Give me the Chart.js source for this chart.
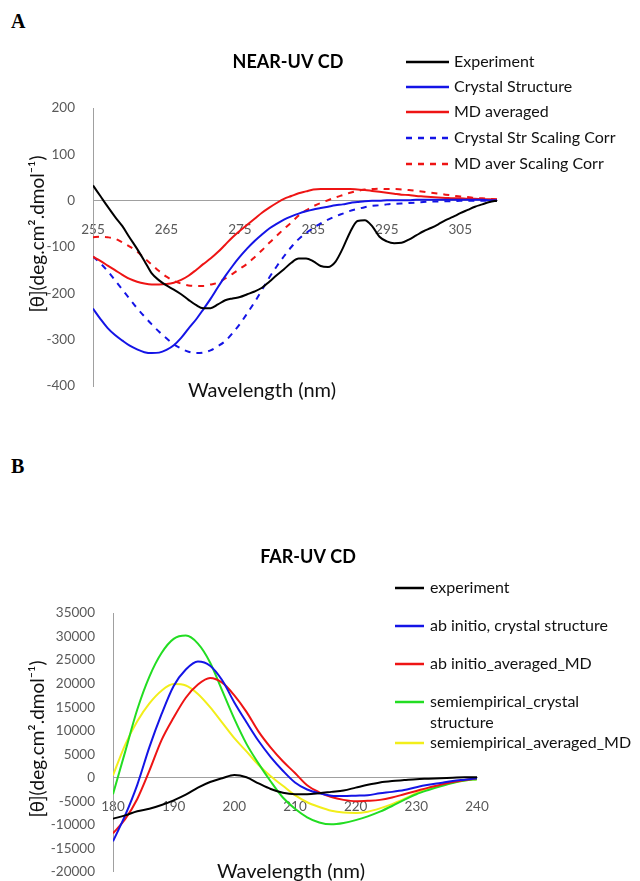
<!DOCTYPE html>
<html>
<head>
<meta charset="utf-8">
<script src="https://cdn.jsdelivr.net/npm/chart.js@4.4.0/dist/chart.umd.min.js"></script>
<style>
  html, body { margin: 0; padding: 0; background: #fff; overflow: hidden; }
  body { width: 640px; height: 881px; position: relative; }
  .panel-letter { position: absolute; left: 11px; font: bold 20px "Liberation Serif", "DejaVu Serif", serif; color: #000; }
  #chartA { position: absolute; left: 0; top: 0; }
  #chartB { position: absolute; left: 0; top: 430px; }
</style>
</head>
<body>
<div class="panel-letter" style="top: 10px;">A</div>
<div class="panel-letter" style="top: 455px;">B</div>
<canvas id="chartA" width="640" height="430"></canvas>
<canvas id="chartB" width="640" height="460"></canvas>
<script>
// ---- Panel A: near-UV CD ----
const wavelengthsA = [255, 256, 257, 258, 259, 260, 261, 262, 263, 264, 265, 266, 267, 268, 269, 270, 271, 272, 273, 274,
    275, 276, 277, 278, 279, 280, 281, 282, 283, 284, 285, 286, 287, 288, 289, 290, 291, 292, 293, 294,
    295, 296, 297, 298, 299, 300, 301, 302, 303, 304, 305, 306, 307, 308, 309, 310];
const experimentA = [33, 10, -13, -35, -55, -80, -104, -130, -157, -172, -183, -192, -202, -214, -225, -232, -232, -224, -215, -211,
    -208, -202, -196, -188, -175, -161, -148, -134, -125, -125, -131, -141, -143, -132, -103, -68, -44, -42, -55, -78,
    -88, -92, -91, -84, -75, -66, -59, -51, -42, -35, -27, -20, -13, -8, -3, 0];
const crystalA = [-233, -255, -275, -290, -302, -313, -321, -327, -329, -328, -322, -312, -296, -276, -257, -235, -212, -187, -163, -141,
    -121, -103, -87, -73, -60, -50, -41, -34, -28, -23, -19, -16, -13, -10, -8, -5, -3, -1, 0, 0,
    1, 1, 1, 1, 2, 2, 2, 2, 2, 2, 2, 2, 2, 2, 1, 1];
const mdAveragedA = [-121, -130, -140, -150, -160, -169, -175, -179, -181, -181, -180, -177, -171, -162, -150, -137, -125, -111, -95, -79,
    -65, -52, -39, -26, -15, -5, 4, 10, 16, 20, 24, 25, 25, 25, 25, 25, 24, 23, 21, 19,
    17, 15, 13, 12, 10, 9, 8, 7, 6, 5, 5, 4, 4, 3, 3, 2];
const crystalScaledA = [-121, -135, -152, -172, -192, -212, -232, -250, -267, -283, -297, -310, -319, -326, -329, -328, -323, -314, -303, -286,
    -266, -243, -219, -193, -166, -142, -120, -100, -83, -70, -59, -49, -41, -34, -28, -22, -18, -14, -11, -10,
    -8, -7, -6, -5, -4, -3, -2, -2, -1, -1, 0, 0, 0, 0, 0, 0];
const mdScaledA = [-79, -78, -79, -82, -90, -99, -110, -124, -138, -152, -164, -173, -179, -183, -184, -184, -181, -177, -168, -158,
    -147, -136, -122, -107, -91, -76, -61, -47, -32, -21, -12, -5, 1, 7, 12, 17, 21, 24, 25, 26,
    25, 25, 24, 23, 21, 19, 17, 15, 13, 11, 9, 8, 6, 5, 4, 3];
const xTicksA = [255, 265, 275, 285, 295, 305];

// ---- Panel B: far-UV CD ----
const wavelengthsB = [180, 182, 184, 186, 188, 190, 192, 194, 196, 198, 200, 202, 204, 206, 208, 210,
    212, 214, 216, 218, 220, 222, 224, 226, 228, 230, 232, 234, 236, 238, 240];
const experimentB = [-8700, -8000, -7100, -6600, -5800, -4800, -3600, -2100, -900, -100, 600, 100, -1200, -2400, -3200, -3500,
    -3500, -3300, -3000, -2700, -2100, -1500, -1000, -700, -500, -300, -200, -100, 0, 100, 100];
const abInitioCrystalB = [-13500, -8000, -1500, 6500, 13500, 19500, 23000, 24700, 23800, 20700, 16000, 11800, 7800, 4400, 1500, -1000,
    -2500, -3300, -3800, -3900, -3800, -3700, -3300, -3000, -2600, -2000, -1500, -1100, -700, -400, -100];
const abInitioMdB = [-11800, -8800, -4500, 1500, 8000, 12800, 17000, 19800, 21200, 20200, 17500, 14000, 9800, 6400, 3500, 1000,
    -1600, -3100, -4100, -4700, -5000, -4900, -4700, -4200, -3500, -2800, -2100, -1500, -900, -500, -100];
const semiCrystalB = [-3500, 5500, 14500, 21500, 26500, 29500, 30200, 28500, 24500, 18500, 12500, 7200, 3000, -800, -4200, -6600,
    -8400, -9500, -9900, -9600, -9000, -8200, -7200, -6000, -4700, -3500, -2600, -1800, -1100, -600, -300];
const semiMdB = [500, 7000, 12000, 15800, 18500, 19900, 19600, 17800, 15000, 11700, 8400, 5600, 2700, 300, -1700, -3700,
    -5200, -6200, -7000, -7400, -7500, -7200, -6500, -5600, -4500, -3300, -2300, -1600, -1000, -600, -300];
const xTicksB = [180, 190, 200, 210, 220, 230, 240];

const FONT = 'Lato, "Open Sans", sans-serif';
const yTitleText = '[θ](deg.cm².dmol⁻¹)';

const toPoints = (xs, ys) => xs.map((x, i) => ({ x: x, y: ys[i] }));

const lineSet = (label, xs, ys, color, dash) => ({
    label: label,
    data: toPoints(xs, ys),
    borderColor: color,
    backgroundColor: color,
    borderWidth: 2,
    borderDash: dash || [],
    pointRadius: 0,
    cubicInterpolationMode: 'monotone',
    fill: false
});

// draws chart title, axis titles and the legend at their places in the figure
const panelText = {
    id: 'panelText',
    afterDraw(chart, args, opts) {
        const ctx = chart.ctx;
        ctx.save();
        ctx.fillStyle = '#000';
        ctx.textAlign = 'center';
        ctx.textBaseline = 'middle';

        ctx.font = 'bold 18px ' + FONT;
        ctx.fillText(opts.title.text, opts.title.x, opts.title.y);

        ctx.font = '20px ' + FONT;
        ctx.fillStyle = '#111';
        ctx.fillText('Wavelength (nm)', opts.xTitle.x, opts.xTitle.y);

        ctx.save();
        ctx.font = '19px ' + FONT;
        ctx.translate(opts.yTitle.x, opts.yTitle.y);
        ctx.rotate(-Math.PI / 2);
        ctx.fillText(yTitleText, 0, 0);
        ctx.restore();

        const lg = opts.legend;
        ctx.font = '16px ' + FONT;
        ctx.textAlign = 'left';
        ctx.fillStyle = '#111';
        chart.data.datasets.forEach((ds, i) => {
            const y = lg.rows[i];
            ctx.save();
            ctx.strokeStyle = ds.borderColor;
            ctx.lineWidth = 2.5;
            ctx.setLineDash(ds.borderDash);
            ctx.beginPath();
            ctx.moveTo(lg.x0, y);
            ctx.lineTo(lg.x1, y);
            ctx.stroke();
            ctx.restore();

            // simple word wrap
            const words = ds.label.split(' ');
            const lines = [];
            let cur = '';
            words.forEach(w => {
                const test = cur ? cur + ' ' + w : w;
                if (cur && ctx.measureText(test).width > lg.wrap) {
                    lines.push(cur);
                    cur = w;
                } else {
                    cur = test;
                }
            });
            lines.push(cur);
            lines.forEach((t, j) => ctx.fillText(t, lg.textX, y + j * lg.lineHeight));
        });
        ctx.restore();
    }
};

const makeOptions = (cfg) => ({
    responsive: false,
    animation: false,
    layout: { padding: cfg.padding },
    plugins: {
        legend: { display: false },
        title: { display: false },
        tooltip: { enabled: false },
        panelText: cfg.text
    },
    scales: {
        x: {
            type: 'linear',
            position: { y: 0 },
            min: cfg.xMin,
            max: cfg.xMax,
            afterBuildTicks: (scale) => { scale.ticks = cfg.xTicks.map(v => ({ value: v })); },
            grid: { display: false },
            border: { display: true, color: '#a0a0a0', width: 1 },
            ticks: { color: '#595959', font: { family: FONT, size: 13.5 }, padding: 13, maxRotation: 0, autoSkip: false,
                callback: (v) => String(v) }
        },
        y: {
            type: 'linear',
            position: 'left',
            min: cfg.yMin,
            max: cfg.yMax,
            afterFit: (scale) => { scale.width = cfg.axisX; },
            grid: { display: false },
            border: { display: true, color: '#a0a0a0', width: 1 },
            ticks: { stepSize: cfg.yStep, color: '#595959', font: { family: FONT, size: 13.5 }, padding: 10,
                callback: (v) => String(v) }
        }
    }
});

new Chart(document.getElementById('chartA'), {
    type: 'line',
    data: {
        datasets: [
            lineSet('Experiment', wavelengthsA, experimentA, '#000000'),
            lineSet('Crystal Structure', wavelengthsA, crystalA, '#1414e6'),
            lineSet('MD averaged', wavelengthsA, mdAveragedA, '#ee1414'),
            lineSet('Crystal Str Scaling Corr', wavelengthsA, crystalScaledA, '#1414e6', [6, 6]),
            lineSet('MD aver Scaling Corr', wavelengthsA, mdScaledA, '#ee1414', [6, 6])
        ]
    },
    options: makeOptions({
        padding: { left: 0, top: 108, right: 143, bottom: 44 },
        axisX: 93,
        xMin: 255, xMax: 310, xTicks: xTicksA,
        yMin: -400, yMax: 200, yStep: 100,
        text: {
            title: { text: 'NEAR-UV CD', x: 288, y: 62 },
            xTitle: { x: 262, y: 391 },
            yTitle: { x: 38, y: 234 },
            legend: { x0: 406, x1: 449, textX: 454, rows: [62, 87, 112, 138, 164], wrap: 400, lineHeight: 21 }
        }
    }),
    plugins: [panelText]
});

new Chart(document.getElementById('chartB'), {
    type: 'line',
    data: {
        datasets: [
            lineSet('experiment', wavelengthsB, experimentB, '#000000'),
            lineSet('ab initio, crystal structure', wavelengthsB, abInitioCrystalB, '#1414e6'),
            lineSet('ab initio_averaged_MD', wavelengthsB, abInitioMdB, '#ee1414'),
            lineSet('semiempirical_crystal structure', wavelengthsB, semiCrystalB, '#22dd22'),
            lineSet('semiempirical_averaged_MD', wavelengthsB, semiMdB, '#f2ee1a')
        ]
    },
    options: makeOptions({
        padding: { left: 0, top: 183, right: 163, bottom: 13 },
        axisX: 113,
        xMin: 180, xMax: 240, xTicks: xTicksB,
        yMin: -20000, yMax: 35000, yStep: 5000,
        text: {
            title: { text: 'FAR-UV CD', x: 308, y: 127 },
            xTitle: { x: 291, y: 442 },
            yTitle: { x: 38, y: 309 },
            legend: { x0: 395, x1: 424, textX: 430, rows: [158, 196, 234, 272, 313], wrap: 200, lineHeight: 21 }
        }
    }),
    plugins: [panelText]
});
</script>
</body>
</html>
